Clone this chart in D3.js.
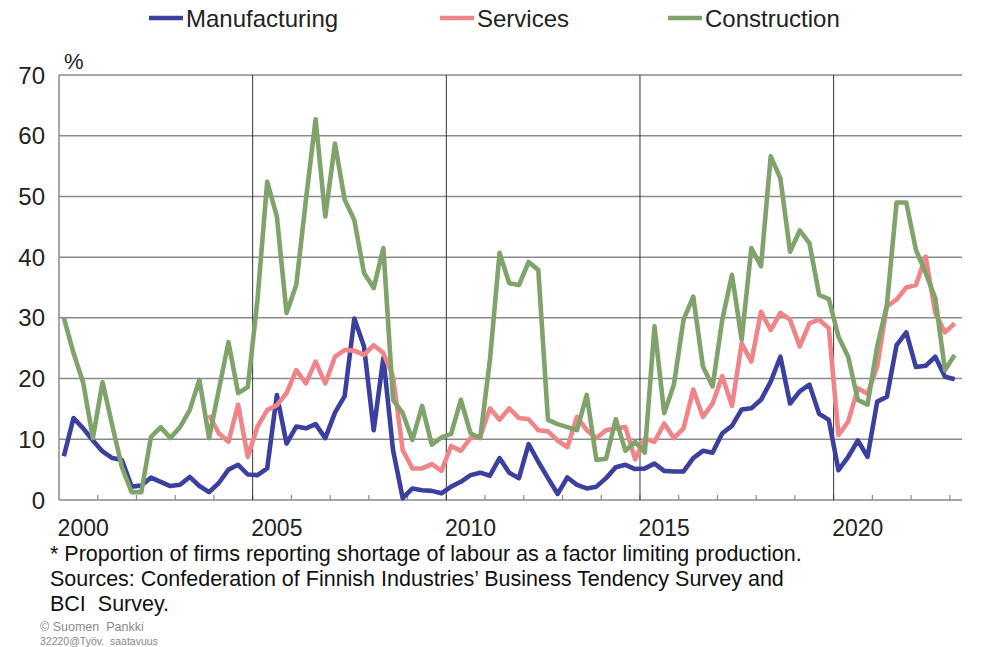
<!DOCTYPE html>
<html><head><meta charset="utf-8">
<script src="https://cdn.jsdelivr.net/npm/d3@7"></script>
<style>
html,body{margin:0;padding:0;background:#fff;}
svg{display:block;font-family:"Liberation Sans",Arial,sans-serif;}
svg text{white-space:pre;}
</style></head>
<body><svg id="chart" width="982" height="647"></svg>
<script>
// quarterly data, 2000Q1 .. 2023Q1
const startYear = 2000;
const yearLabels = ["2000","2005","2010","2015","2020"];
const yTicks = [0,10,20,30,40,50,60,70];
const seriesNames = ["Manufacturing","Services","Construction"];
const seriesColors = ["#3b3f9e","#f08589","#7fa36b"];

const manufacturing = [7.2,13.5,11.8,9.8,8.0,6.9,6.6,2.2,2.4,3.7,3.0,2.3,2.5,3.8,2.3,1.3,2.8,5.0,5.8,4.2,
  4.1,5.2,17.3,9.3,12.1,11.8,12.5,10.2,14.4,17.1,29.9,25.3,11.5,23.4,8.2,0.3,1.9,1.6,1.5,1.1,
  2.2,3.0,4.1,4.5,4.0,6.9,4.5,3.6,9.2,6.3,3.6,1.0,3.7,2.5,1.9,2.2,3.6,5.4,5.8,5.1,
  5.2,6.0,4.8,4.7,4.7,6.9,8.1,7.8,11.0,12.2,14.9,15.1,16.5,19.5,23.6,15.9,17.9,19.0,14.2,13.2,
  4.9,7.1,9.8,7.1,16.2,17.0,25.5,27.6,21.9,22.1,23.6,20.3,19.9];
const services = [null,null,null,null,null,null,null,null,null,null,null,null,null,null,null,14.0,11.0,9.6,15.7,7.1,
  12.1,14.8,15.6,17.6,21.4,19.2,22.8,19.2,23.6,24.7,24.6,23.9,25.5,24.2,20.3,8.2,5.2,5.2,5.9,4.8,
  8.9,8.1,10.2,10.4,15.1,13.2,15.1,13.5,13.3,11.5,11.3,9.8,8.7,13.7,11.5,10.2,11.5,11.8,12.0,6.7,
  10.1,9.6,12.6,10.2,11.8,18.2,13.7,15.9,20.4,15.5,25.8,22.8,31.0,28.0,30.8,29.7,25.3,29.1,29.7,28.3,
  10.7,12.9,18.4,17.5,22.0,31.9,33.0,35.0,35.4,40.1,30.8,27.6,29.1];
const construction = [30.0,24.2,19.3,10.2,19.4,12.3,5.4,1.3,1.3,10.4,12.0,10.2,12.0,14.8,19.8,10.2,18.1,26.0,17.6,18.6,
  33.0,52.4,46.7,30.8,35.4,49.4,62.7,46.7,58.7,49.5,46.1,37.4,34.9,41.5,16.5,14.3,9.9,15.5,9.1,10.3,
  10.9,16.5,11.0,10.2,23.0,40.7,35.7,35.4,39.2,37.9,13.2,12.5,12.0,11.5,17.3,6.6,6.8,13.3,8.1,9.6,
  7.8,28.6,14.3,19.0,29.7,33.5,22.0,18.7,29.7,37.1,26.4,41.5,38.5,56.6,53.0,40.9,44.4,42.3,33.8,33.1,
  26.9,23.6,16.5,15.7,25.3,32.1,49.0,49.0,41.2,37.4,33.2,21.4,23.9];
const footnotes = ["* Proportion of firms reporting shortage of labour as a factor limiting production.",
  "Sources: Confederation of Finnish Industries\u2019 Business Tendency Survey and",
  "BCI  Survey."];
const credits = ["\u00a9 Suomen  Pankki","32220@Ty\u00f6v.  saatavuus"];

const svg = d3.select("#chart");
const L = 59, R = 962, T = 75, B = 500;
const qw = 9.683;
// position scale in quarter index units (centre of quarter slots)
const x = d3.scaleLinear().domain([-0.5, (R - L) / qw - 0.5]).range([L, R]);
const y = d3.scaleLinear().domain([0, 70]).range([B, T]);

// horizontal grid
svg.append("g").selectAll("line").data(yTicks).join("line")
  .attr("x1", L).attr("x2", R).attr("y1", d => y(d)).attr("y2", d => y(d))
  .attr("stroke", "#8a8a8a").attr("stroke-width", 1.5);

// year boundaries: inner ticks + vertical grid every 5 years
const years = d3.range(startYear, 2024);
svg.append("g").selectAll("line").data(years.slice(1)).join("line")
  .attr("x1", d => x((d - startYear) * 4 - 0.5)).attr("x2", d => x((d - startYear) * 4 - 0.5))
  .attr("y1", B).attr("y2", B - 5)
  .attr("stroke", "#8a8a8a").attr("stroke-width", 1.2);
svg.append("g").selectAll("line").data(yearLabels.slice(1)).join("line")
  .attr("x1", d => x((+d - startYear) * 4 - 0.5)).attr("x2", d => x((+d - startYear) * 4 - 0.5))
  .attr("y1", T).attr("y2", B)
  .attr("stroke", "#333").attr("stroke-width", 1);
// left axis line
svg.append("line").attr("x1", L).attr("x2", L).attr("y1", T).attr("y2", B)
  .attr("stroke", "#8a8a8a").attr("stroke-width", 1.5);

// y labels
svg.append("g").selectAll("text").data(yTicks).join("text")
  .attr("x", 45).attr("y", d => y(d) + 8.5).attr("text-anchor", "end")
  .attr("font-size", 24).attr("fill", "#222").text(d => d);
svg.append("text").attr("x", 64).attr("y", 69).attr("font-size", 22).attr("fill", "#222").text("%");

// x labels
svg.append("g").selectAll("text").data(yearLabels).join("text")
  .attr("x", d => x((+d - startYear) * 4 + 2)).attr("y", 536).attr("text-anchor", "middle")
  .attr("font-size", 23).attr("fill", "#222").text(d => d);

// lines
const data = [manufacturing, services, construction];
const line = d3.line().defined(d => d != null).x((d, i) => x(i)).y(d => y(d));
svg.append("g").selectAll("path").data(data).join("path")
  .attr("d", d => line(d)).attr("fill", "none")
  .attr("stroke", (d, i) => seriesColors[i]).attr("stroke-width", 4.6)
  .attr("stroke-linejoin", "round").attr("stroke-linecap", "butt");

// legend
const legendX = [149, 440, 668];
const lg = svg.append("g");
seriesNames.forEach((n, i) => {
  lg.append("line").attr("x1", legendX[i]).attr("x2", legendX[i] + 34).attr("y1", 18).attr("y2", 18)
    .attr("stroke", seriesColors[i]).attr("stroke-width", 4.6);
  lg.append("text").attr("x", legendX[i] + 37).attr("y", 27).attr("font-size", 24).attr("fill", "#222").text(n);
});

// footnotes
svg.append("g").selectAll("text").data(footnotes).join("text")
  .attr("x", 50).attr("y", (d, i) => 561 + i * 25).attr("font-size", 21.5).attr("fill", "#111").text(d => d);
svg.append("text").attr("x", 40).attr("y", 631).attr("font-size", 12.5).attr("fill", "#888").text(credits[0]);
svg.append("text").attr("x", 40).attr("y", 645).attr("font-size", 10.5).attr("fill", "#888").text(credits[1]);
</script></body></html>
